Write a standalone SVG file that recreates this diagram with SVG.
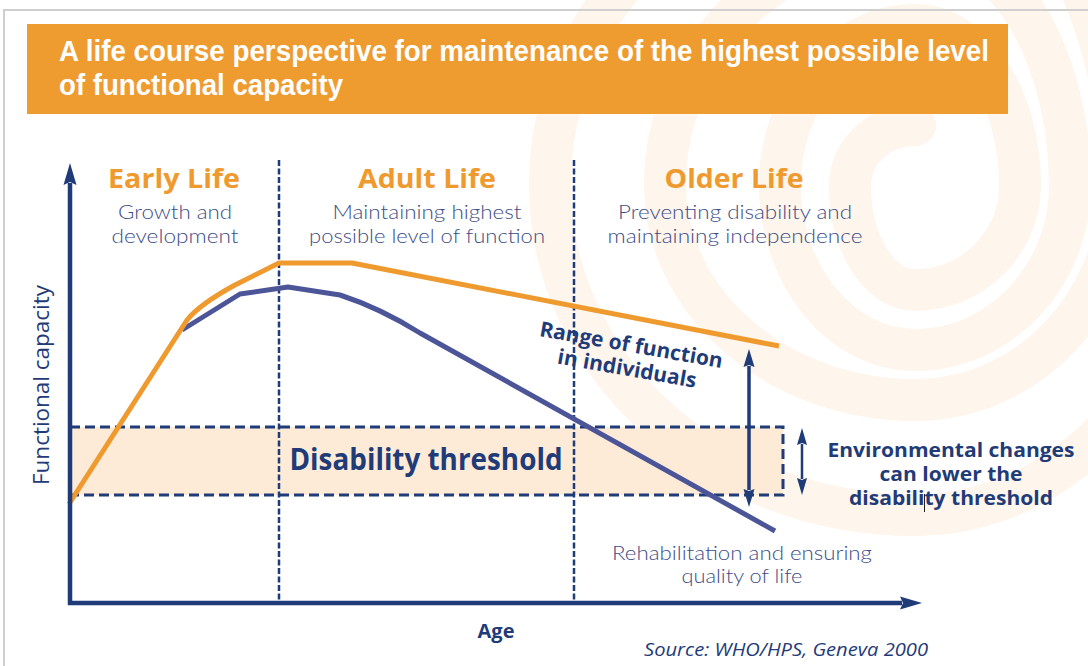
<svg xmlns="http://www.w3.org/2000/svg" width="1088" height="666" viewBox="0 0 1088 666">
  <defs>
    <style>
      .ttl{font-family:"Open Sans","Liberation Sans",sans-serif;font-weight:700;fill:#ef9a2f;font-size:27px;text-anchor:middle}
      .sub{font-family:Lato,"Open Sans","Liberation Sans",sans-serif;font-weight:300;fill:#3d4c86;font-size:19px;text-anchor:middle}
      .lbl{font-family:"Open Sans","Liberation Sans",sans-serif;font-weight:700;fill:#1f3b78;text-anchor:middle}
      .reg{font-family:"Open Sans","Liberation Sans",sans-serif;font-weight:400;fill:#1f3b78}
      .head{font-family:"Liberation Sans",Arial,sans-serif;font-weight:700;fill:#ffffff;font-size:29px}
      .vdash{stroke:#1f3b78;stroke-width:2.5;stroke-dasharray:6 2.5;fill:none}
      .axis{stroke:#1f3b78;stroke-width:4.5;fill:none}
      .dbl{stroke:#1f3b78;fill:none}
    </style>
    <marker id="axisHead" markerUnits="userSpaceOnUse" viewBox="0 -7 22 14" refX="2" refY="0" markerWidth="22" markerHeight="14" orient="auto-start-reverse">
      <path d="M0,-6.5 L22,0 L0,6.5 L3,0z" fill="#1f3b78"/>
    </marker>
    <marker id="rangeHead" markerUnits="userSpaceOnUse" viewBox="0 -6 18 12" refX="1" refY="0" markerWidth="18" markerHeight="12" orient="auto-start-reverse">
      <path d="M0,-5.5 L18,0 L0,5.5 L2,0z" fill="#1f3b78"/>
    </marker>
    <marker id="envHead" markerUnits="userSpaceOnUse" viewBox="0 -6 18 12" refX="1" refY="0" markerWidth="18" markerHeight="12" orient="auto-start-reverse">
      <path d="M0,-5 L17,0 L0,5 L2,0z" fill="#1f3b78"/>
    </marker>
  </defs>

  <rect width="1088" height="666" fill="#ffffff"/>

  <!-- faint background spiral, wound outward from its eye -->
  <path id="spiral" fill="none" stroke="#fef5ec" stroke-width="42" stroke-linecap="round"
        d="M915 125 C879 125 850 152 850 185
           C850 243 879 290 915 290
           C973 290 1020 243 1020 185
           C1020 97 973 25 915 25
           C841 25 780 97 780 185
           C780 276 841 350 915 350
           C1000 350 1070 276 1070 185
           C1070 50 1000 -60 915 -60
           C778 -60 665 50 665 185
           C665 303 778 400 915 400
           C1028 400 1120 303 1120 185
           C1120 1 1028 -150 915 -150
           C714 -150 550 1 550 185
           C550 367 714 515 915 515
           C1072 515 1200 367 1200 185"/>

  <!-- page frame -->
  <path d="M4 666 L4 10 L1088 10" fill="none" stroke="#cfcfcf" stroke-width="2"/>

  <!-- title banner -->
  <g id="title">
    <rect x="27" y="24" width="981" height="90" fill="#ee9b30"/>
    <text class="head" x="59" y="61" textLength="930" lengthAdjust="spacingAndGlyphs">A life course perspective for maintenance of the highest possible level</text>
    <text class="head" x="59" y="95" textLength="284" lengthAdjust="spacingAndGlyphs">of functional capacity</text>
  </g>

  <!-- disability threshold band -->
  <g id="threshold">
    <rect x="70" y="427" width="713" height="68" fill="#fdebd7" stroke="#1f3b78" stroke-width="3" stroke-dasharray="10 5"/>
    <text class="lbl" x="426" y="470" font-size="30" textLength="273" lengthAdjust="spacingAndGlyphs">Disability threshold</text>
  </g>

  <!-- life stage dividers -->
  <g id="dividers">
    <line class="vdash" x1="279" y1="160" x2="279" y2="603"/>
    <line class="vdash" x1="574" y1="160" x2="574" y2="603"/>
  </g>

  <!-- stage headings -->
  <g id="early-life">
    <text class="ttl" x="174" y="188" textLength="132" lengthAdjust="spacingAndGlyphs">Early Life</text>
    <text class="sub" x="175" y="219" textLength="114" lengthAdjust="spacingAndGlyphs">Growth and</text>
    <text class="sub" x="175" y="243" textLength="127" lengthAdjust="spacingAndGlyphs">development</text>
  </g>
  <g id="adult-life">
    <text class="ttl" x="427" y="188" textLength="138" lengthAdjust="spacingAndGlyphs">Adult Life</text>
    <text class="sub" x="427" y="219" textLength="189" lengthAdjust="spacingAndGlyphs">Maintaining highest</text>
    <text class="sub" x="427" y="243" textLength="236" lengthAdjust="spacingAndGlyphs">possible level of function</text>
  </g>
  <g id="older-life">
    <text class="ttl" x="734" y="188" textLength="139" lengthAdjust="spacingAndGlyphs">Older Life</text>
    <text class="sub" x="735" y="219" textLength="234" lengthAdjust="spacingAndGlyphs">Preventing disability and</text>
    <text class="sub" x="735" y="243" textLength="255" lengthAdjust="spacingAndGlyphs">maintaining independence</text>
  </g>

  <!-- capacity curves -->
  <g id="curves" fill="none" stroke-linejoin="round">
    <path id="individual-curve" d="M182 330 L240 294 L288 287 L340 295 Q380 308 420 333 L775 531" stroke="#4b5598" stroke-width="5"/>
    <path id="max-curve" d="M69 504 L187 320 Q200 304 235 285 L279 263 L352 263 L779 346" stroke="#ef9a2f" stroke-width="5"/>
  </g>

  <!-- axes and arrows -->
  <g id="connectors">
    <line class="axis" x1="70" y1="605" x2="70" y2="183" marker-end="url(#axisHead)"/>
    <line class="axis" x1="68" y1="603" x2="902" y2="603" marker-end="url(#axisHead)"/>
    <line class="dbl" stroke-width="3.5" x1="749" y1="366" x2="749" y2="490" marker-start="url(#rangeHead)" marker-end="url(#rangeHead)"/>
    <line class="dbl" stroke-width="2.5" x1="802" y1="444" x2="802" y2="479" marker-start="url(#envHead)" marker-end="url(#envHead)"/>
  </g>

  <!-- range label -->
  <g id="range-label" transform="translate(630 352) rotate(10)">
    <text class="lbl" x="0" y="0" font-size="21">Range of function</text>
    <text class="lbl" x="0" y="24" font-size="21">in individuals</text>
  </g>

  <!-- environment note -->
  <g id="environment-note">
    <text class="lbl" x="951" y="457" font-size="19" textLength="247" lengthAdjust="spacingAndGlyphs">Environmental changes</text>
    <text class="lbl" x="951" y="481" font-size="19" textLength="143" lengthAdjust="spacingAndGlyphs">can lower the</text>
    <text class="lbl" x="951" y="505" font-size="19" textLength="204" lengthAdjust="spacingAndGlyphs">disability threshold</text>
    <line x1="924.5" y1="494" x2="924.5" y2="512" stroke="#222" stroke-width="1"/>
  </g>

  <!-- rehabilitation note -->
  <g id="rehab-note">
    <text class="sub" x="742" y="560" textLength="260" lengthAdjust="spacingAndGlyphs">Rehabilitation and ensuring</text>
    <text class="sub" x="742" y="583" textLength="121" lengthAdjust="spacingAndGlyphs">quality of life</text>
  </g>

  <!-- axis labels and source -->
  <g id="axis-labels">
    <text class="lbl" x="496" y="638" font-size="20">Age</text>
    <text class="reg" transform="translate(49 385) rotate(-90)" x="0" y="0" font-size="21" text-anchor="middle" textLength="200" lengthAdjust="spacingAndGlyphs">Functional capacity</text>
    <text class="reg" x="644" y="656" font-size="19" font-style="italic" textLength="284" lengthAdjust="spacingAndGlyphs">Source: WHO/HPS, Geneva 2000</text>
  </g>
</svg>
